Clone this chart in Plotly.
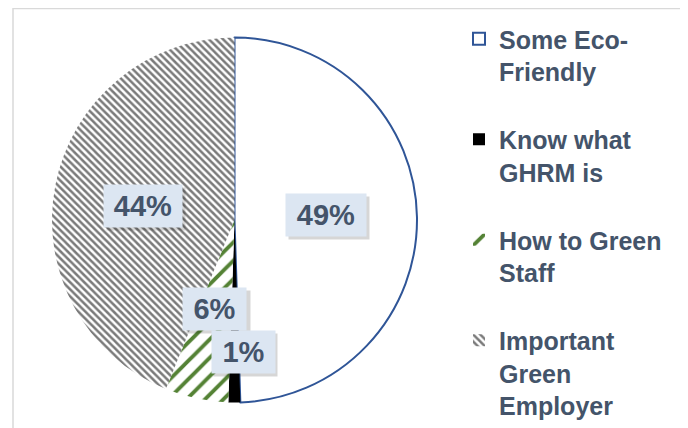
import plotly.graph_objects as go

categories = ["Some Eco-<br>Friendly<br> ", "Know what<br>GHRM is<br> ", "How to Green<br>Staff<br> ", "Important<br>Green<br>Employer"]
values = [49.49, 1.05, 5.6, 43.86]
slice_colors = ["#FFFFFF", "#000000", "#FFFFFF", "#FFFFFF"]
pattern_shapes = ["", "", "/", "\\"]
pattern_fg = ["#FFFFFF", "#000000", "#548235", "#7A7A7A"]
pattern_size = [8, 8, 13, 5]
pattern_solidity = [0.3, 0.3, 0.3, 0.5]
line_colors = ["#2F5597", "#000000", "#FFFFFF", "#FFFFFF"]
line_widths = [2, 0, 0, 0]
# label box centres (window pixels), in data order
label_pos = [(326, 215), (243, 352), (215, 309), (143, 206)]
label_w = [72, 55, 55, 70]

OFF = 8  # default page body margin
W, H = 680, 420
TXT = "#44546A"
FONT = "Liberation Sans, Arial, sans-serif"


def px(x):
    return (x - OFF) / W


def py(y):
    return (H - (y - OFF)) / H


total = sum(values)
pct = [f"{round(v / total * 100)}%" for v in values]

fig = go.Figure(go.Pie(
    labels=categories,
    values=values,
    sort=False,
    direction="clockwise",
    rotation=0,
    textinfo="none",
    hoverinfo="skip",
    marker=dict(
        colors=slice_colors,
        line=dict(color=line_colors, width=line_widths),
        pattern=dict(shape=pattern_shapes, fgcolor=pattern_fg, bgcolor="#FFFFFF",
                     size=pattern_size, solidity=pattern_solidity, fgopacity=1),
    ),
    domain=dict(x=[px(52), px(417)], y=[py(402.5), py(37.5)]),
    showlegend=True,
))

annotations = []
order = sorted(range(len(values)), key=lambda i: label_pos[i][1])
for i in order:
    (cx, cy), w, t = label_pos[i], label_w[i], pct[i]
    # soft drop shadow box (no text)
    annotations.append(dict(
        x=px(cx + 3), y=py(cy + 3), xref="paper", yref="paper",
        xanchor="center", yanchor="middle",
        text=" ", showarrow=False, width=w, height=34, borderpad=4,
        bgcolor="rgba(0,0,0,0.16)", font=dict(size=29, family=FONT),
    ))
    annotations.append(dict(
        x=px(cx), y=py(cy), xref="paper", yref="paper",
        xanchor="center", yanchor="middle",
        text=t, showarrow=False, width=w, height=34, borderpad=4,
        bgcolor="#DCE6F2", font=dict(size=29, family=FONT, color=TXT, weight="bold"),
    ))

fig.update_layout(
    width=W, height=H,
    margin=dict(l=0, r=0, t=0, b=0),
    paper_bgcolor="white",
    plot_bgcolor="white",
    annotations=annotations,
    legend=dict(
        x=px(459), y=py(21), xanchor="left", yanchor="top",
        font=dict(size=25, family=FONT, color=TXT, weight="bold"),
        valign="top", bgcolor="rgba(0,0,0,0)",
        itemclick=False, itemdoubleclick=False,
    ),
    shapes=[dict(type="rect", xref="paper", yref="paper",
                 x0=px(13), x1=px(683), y0=-0.1, y1=py(8.5),
                 line=dict(color="#D9D9D9", width=1.5), fillcolor="rgba(0,0,0,0)", layer="below")],
)

fig.write_html("out.html")
